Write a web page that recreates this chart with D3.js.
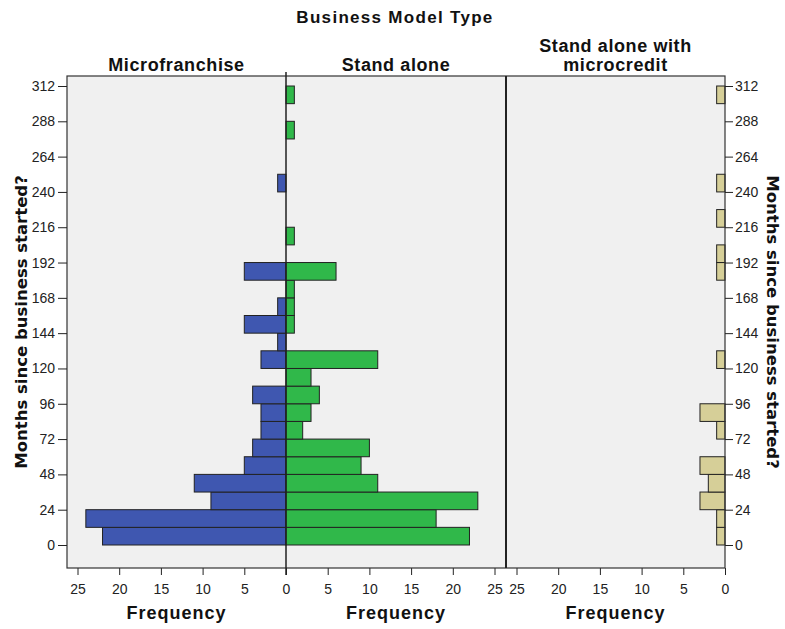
<!DOCTYPE html>
<html><head><meta charset="utf-8">
<script src="https://cdn.jsdelivr.net/npm/d3@7"></script>
<style>body{margin:0;background:#fff}text{font-family:"Liberation Sans",Arial,sans-serif}</style>
</head><body><svg id="c" width="785" height="629"></svg>
<script>
// Bin starts (months), bin width 12
const binStarts = d3.range(0, 312, 12);
const microfranchise = [22,24,9,11,5,4,3,3,4,0,3,1,5,1,0,5,0,0,0,0,1,0,0,0,0,0];
const standAlone     = [22,18,23,11,9,10,2,3,4,3,11,0,1,1,1,6,0,1,0,0,0,0,0,1,0,1];
const standAloneMC   = [1,1,3,2,3,0,1,3,0,0,1,0,0,0,0,1,1,0,1,0,1,0,0,0,0,1];
const yTicks = [0,24,48,72,96,120,144,168,192,216,240,264,288,312];
const xTicks = [0,5,10,15,20,25];
const panelTitles = [["Microfranchise"],["Stand alone"],["Stand alone with","microcredit"]];
const binWidth = 12;

const svg = d3.select("#c");
const plotTop = 76, plotBottom = 568;
const y = d3.scaleLinear().domain([0,312]).range([545,86]);
const panels = [
  {x0:67, x1:286, x: d3.scaleLinear().domain([0,25]).range([286,77.5]), data: microfranchise, color:"#3F57B0"},
  {x0:286, x1:506, x: d3.scaleLinear().domain([0,25]).range([286,494.5]), data: standAlone, color:"#30B84A"},
  {x0:506, x1:725, x: d3.scaleLinear().domain([0,25]).range([725,516.5]), data: standAloneMC, color:"#D6CF98"}
];

svg.append("rect").attr("x",67).attr("y",plotTop).attr("width",725-67).attr("height",plotBottom-plotTop)
  .attr("fill","#F0F0F0");

const boldText = (sel)=>sel.attr("font-weight","bold").attr("fill","#111");

panels.forEach((p,i)=>{
  const g = svg.append("g");
  g.selectAll("rect.bar").data(p.data.map((v,j)=>({v, b:binStarts[j]})).filter(d=>d.v>0))
    .enter().append("rect")
    .attr("x", d=>Math.min(p.x(0), p.x(d.v)))
    .attr("width", d=>Math.abs(p.x(d.v)-p.x(0)))
    .attr("y", d=>y(d.b+binWidth))
    .attr("height", d=>y(d.b)-y(d.b+binWidth))
    .attr("fill", p.color).attr("stroke","#222").attr("stroke-width",1);
  const ax = svg.append("g").attr("transform",`translate(0,${plotBottom})`)
    .call(d3.axisBottom(p.x).tickValues(xTicks).tickSize(7).tickSizeOuter(0));
  ax.select(".domain").remove();
  ax.selectAll("line").attr("stroke","#222");
  ax.selectAll("text").attr("font-size",14).attr("fill","#222").attr("y",16).attr("dy","0.71em");
  if (i === 0) ax.selectAll(".tick").filter(d=>d===0).select("text").remove();
  svg.append("text").attr("x",(p.x0+p.x1)/2).attr("y",619).attr("text-anchor","middle")
    .attr("font-size",18).attr("letter-spacing",1).call(boldText).text("Frequency");
  const t = panelTitles[i];
  t.forEach((s,k)=>{
    svg.append("text").attr("x",(p.x0+p.x1)/2).attr("y",71-(t.length-1-k)*19).attr("text-anchor","middle")
      .attr("font-size",18).attr("letter-spacing",0.6).call(boldText).text(s);
  });
});

svg.append("rect").attr("x",67).attr("y",plotTop).attr("width",725-67).attr("height",plotBottom-plotTop)
  .attr("fill","none").attr("stroke","#333").attr("stroke-width",1.2);
svg.append("line").attr("x1",286).attr("x2",286).attr("y1",72).attr("y2",plotBottom+7).attr("stroke","#222").attr("stroke-width",1.5);
svg.append("line").attr("x1",506).attr("x2",506).attr("y1",plotTop).attr("y2",plotBottom).attr("stroke","#222").attr("stroke-width",2);

const yl = svg.append("g").attr("transform","translate(67,0)")
  .call(d3.axisLeft(y).tickValues(yTicks).tickSize(9).tickSizeOuter(0));
yl.select(".domain").remove();
yl.selectAll("line").attr("stroke","#222");
yl.selectAll("text").attr("font-size",14).attr("fill","#222");
const yr = svg.append("g").attr("transform","translate(725,0)")
  .call(d3.axisRight(y).tickValues(yTicks).tickSize(8).tickSizeOuter(0));
yr.select(".domain").remove();
yr.selectAll("line").attr("stroke","#222");
yr.selectAll("text").attr("font-size",14).attr("fill","#222").attr("x",10);

svg.append("text").attr("transform","translate(27,322) rotate(-90)").attr("text-anchor","middle")
  .style("font-family","'DejaVu Sans', Verdana, sans-serif")
  .attr("font-size",16.5).call(boldText).text("Months since business started?");
svg.append("text").attr("transform","translate(767,322) rotate(90)").attr("text-anchor","middle")
  .style("font-family","'DejaVu Sans', Verdana, sans-serif")
  .attr("font-size",16.5).call(boldText).text("Months since business started?");

svg.append("text").attr("x",395).attr("y",23).attr("text-anchor","middle")
  .attr("font-size",17).attr("letter-spacing",1.3).call(boldText).text("Business Model Type");
</script></body></html>
